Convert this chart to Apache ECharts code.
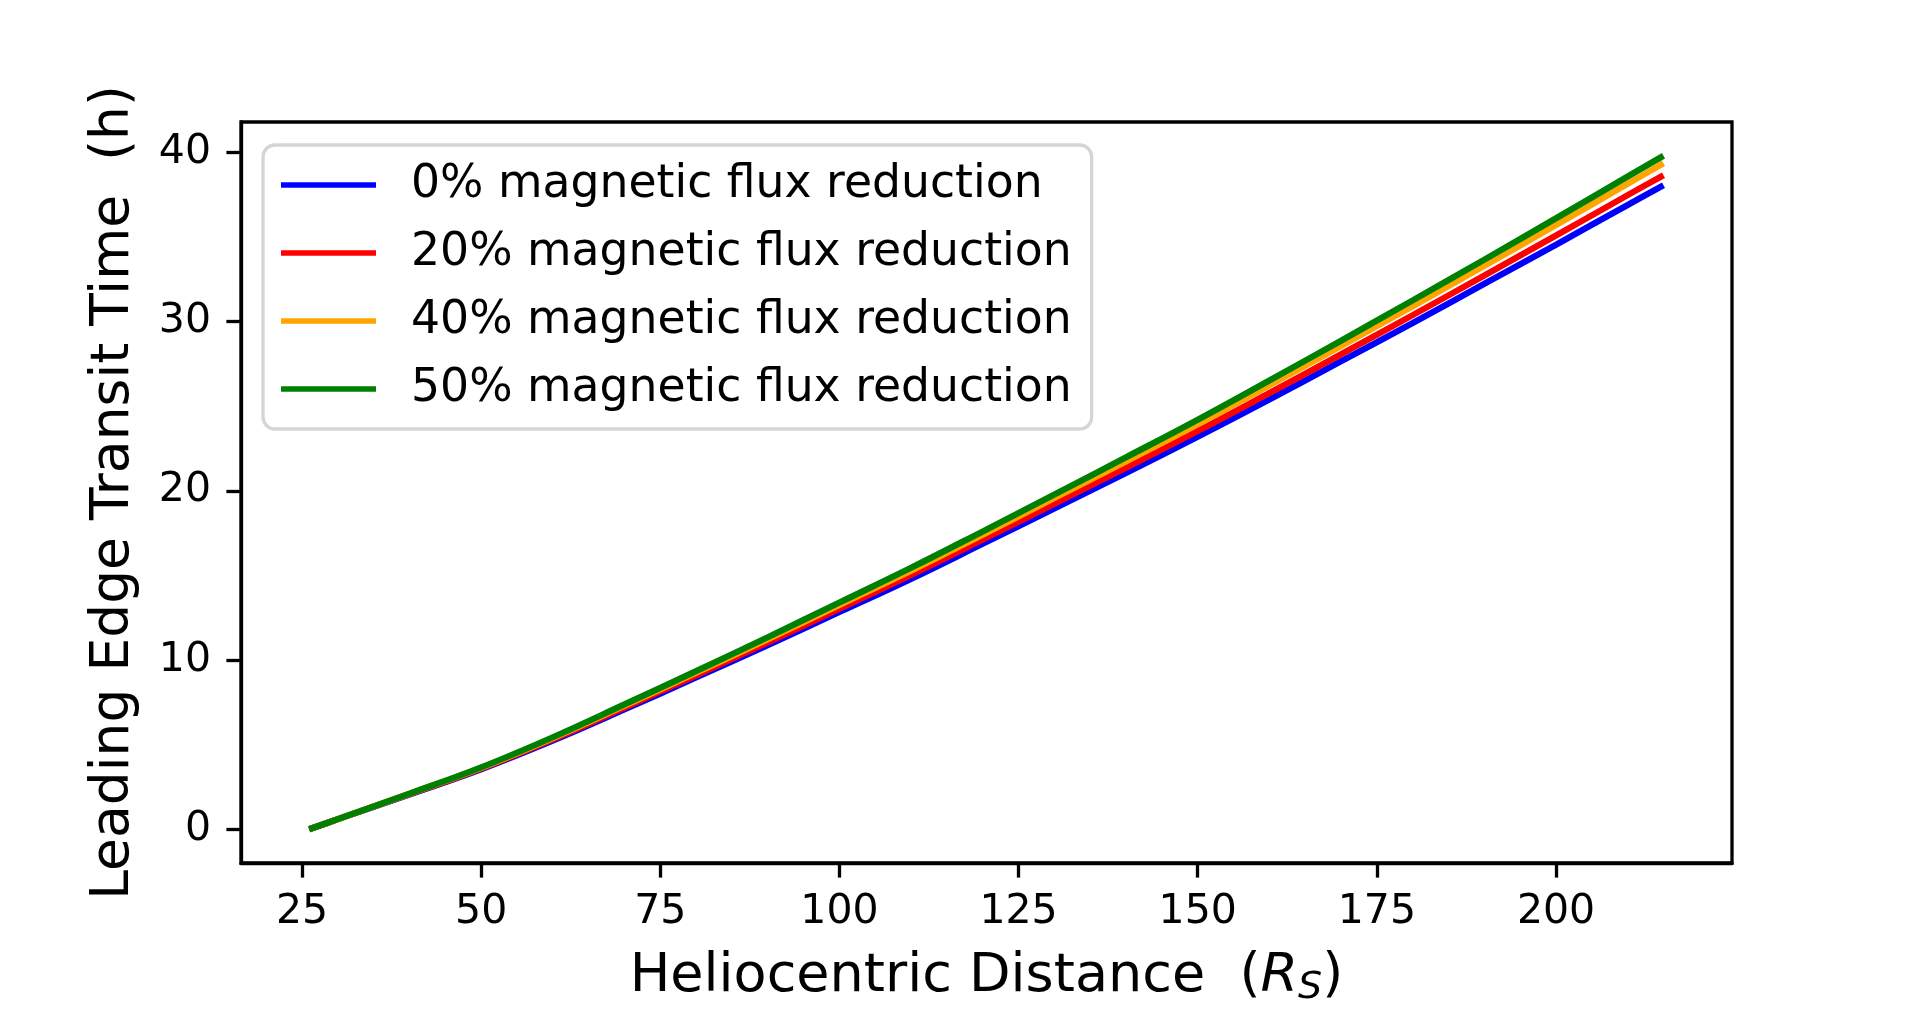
<!DOCTYPE html>
<html><head><meta charset="utf-8">
<script src="https://cdn.jsdelivr.net/npm/echarts@6/dist/echarts.min.js"></script>
<style>html,body{margin:0;padding:0;background:#fff}#c{width:1924px;height:1015px}</style>
</head><body><div id="c"></div><script>
const distance = [26, 30, 40, 50, 60, 70, 80, 90, 100, 110, 120, 130, 140, 150, 160, 170, 180, 190, 200, 210, 215];
const flux0 = [0, 0.6, 2.06, 3.55, 5.24, 7.08, 8.97, 10.88, 12.84, 14.80, 16.87, 18.96, 21.05, 23.19, 25.40, 27.65, 29.92, 32.23, 34.54, 36.89, 38.05];
const flux20 = [0, 0.6, 2.08, 3.59, 5.31, 7.19, 9.10, 11.04, 13.03, 15.03, 17.12, 19.24, 21.37, 23.53, 25.78, 28.07, 30.38, 32.72, 35.08, 37.47, 38.65];
const flux40 = [0, 0.6, 2.10, 3.63, 5.39, 7.30, 9.25, 11.23, 13.26, 15.28, 17.41, 19.57, 21.74, 23.94, 26.23, 28.56, 30.91, 33.29, 35.70, 38.14, 39.35];
const flux50 = [0, 0.6, 2.11, 3.66, 5.44, 7.38, 9.35, 11.35, 13.40, 15.45, 17.60, 19.78, 21.98, 24.20, 26.52, 28.87, 31.25, 33.66, 36.10, 38.57, 39.80];
const seriesNames = ['0% magnetic flux reduction', '20% magnetic flux reduction', '40% magnetic flux reduction', '50% magnetic flux reduction'];
const seriesValues = [flux0, flux20, flux40, flux50];
const seriesColors = ['#0000ff', '#ff0000', '#ffa500', '#008000'];
const xTicks = [25, 50, 75, 100, 125, 150, 175, 200];
const yTicks = [0, 10, 20, 30, 40];

const FONT = 'DejaVu Sans';
const chart = echarts.init(document.getElementById('c'), null, {renderer: 'canvas'});
const series = seriesNames.map((name, k) => ({
  name: name,
  type: 'line',
  data: distance.map((d, i) => [d, seriesValues[k][i]]),
  showSymbol: false,
  symbol: 'none',
  smooth: 0.4,
  lineStyle: {color: seriesColors[k], width: 6.25, cap: 'butt'},
  itemStyle: {color: seriesColors[k]},
  z: 2 + k,
  animation: false
}));

chart.setOption({
  animation: false,
  backgroundColor: '#ffffff',
  grid: {left: 241, right: 192, top: 122, bottom: 152, show: true, borderColor: '#000', borderWidth: 3.3, backgroundColor: 'transparent'},
  xAxis: {
    type: 'value', min: 16.49, max: 224.56,
    splitLine: {show: false},
    axisLine: {show: true, onZero: false, lineStyle: {color: '#000', width: 3.3}},
    axisTick: {show: true, inside: false, length: 14.6, lineStyle: {color: '#000', width: 3.3}, customValues: xTicks},
    axisLabel: {color: '#000', fontFamily: FONT, fontSize: 41, margin: 29, customValues: xTicks},
    name: '{n|Heliocentric Distance  (}{it|R}{sub|S}{n|)}',
    nameLocation: 'middle', nameGap: 84,
    nameTextStyle: {
      color: '#000', fontFamily: FONT, fontSize: 54, verticalAlign: 'top',
      rich: {
        n: {fontFamily: FONT, fontSize: 54, color: '#000'},
        it: {fontFamily: FONT, fontSize: 54, fontStyle: 'italic', color: '#000'},
        sub: {fontFamily: FONT, fontSize: 38, fontStyle: 'italic', color: '#000', padding: [22, 0, 0, 0]}
      }
    }
  },
  yAxis: {
    type: 'value', min: -1.99, max: 41.79,
    splitLine: {show: false},
    axisLine: {show: true, onZero: false, lineStyle: {color: '#000', width: 3.3}},
    axisTick: {show: true, inside: false, length: 14.6, lineStyle: {color: '#000', width: 3.3}, customValues: yTicks},
    axisLabel: {color: '#000', fontFamily: FONT, fontSize: 41, margin: 30, customValues: yTicks},
    name: 'Leading Edge Transit Time  (h)',
    nameLocation: 'middle', nameGap: 100, nameRotate: 90,
    nameTextStyle: {color: '#000', fontFamily: FONT, fontSize: 53.5}
  },
  legend: {
    show: true, orient: 'vertical', left: 263, top: 145,
    data: seriesNames,
    icon: 'path://M0,0 L100,0 L100,6 L0,6 Z',
    itemWidth: 95, itemHeight: 6.25, itemGap: 18,
    padding: [15, 20, 15, 18],
    backgroundColor: 'rgba(255,255,255,0.8)',
    borderColor: '#d5d5d5', borderWidth: 3.3, borderRadius: 12,
    textStyle: {color: '#000', fontFamily: FONT, fontSize: 45.7, lineHeight: 50, padding: [0, 0, 0, 30]},
    selectedMode: false
  },
  series: series
});
</script></body></html>
